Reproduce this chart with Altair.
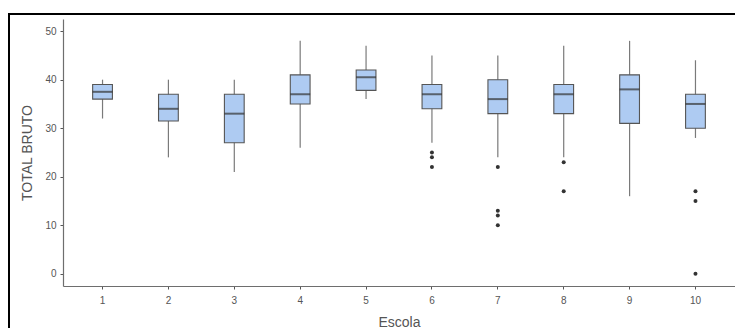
import altair as alt
import pandas as pd

escola = ["1", "2", "3", "4", "5", "6", "7", "8", "9", "10"]
wlow = [32, 24, 21, 26, 36, 27, 24, 24, 16, 28]
q1 = [36, 31.5, 27, 35, 37.8, 34, 33, 33, 31, 30]
median = [37.5, 34, 33, 37, 40.5, 37, 36, 37, 38, 35]
q3 = [39, 37, 37, 41, 42, 39, 40, 39, 41, 37]
whigh = [40, 40, 40, 48, 47, 45, 45, 47, 48, 44]

out_escola = ["6", "6", "6", "7", "7", "7", "7", "8", "8", "10", "10", "10"]
out_value = [25, 24, 22, 22, 13, 12, 10, 23, 17, 17, 15, 0]

stats = pd.DataFrame({"Escola": escola, "wlow": wlow, "q1": q1,
                      "median": median, "q3": q3, "whigh": whigh})
outs = pd.DataFrame({"Escola": out_escola, "value": out_value})

W, H = 672, 267

xscale = alt.Scale(domain=escola, paddingInner=0.7, paddingOuter=0.45)
yscale = alt.Scale(domain=[-2.5, 52.5], nice=False, zero=False)

xenc = alt.X("Escola:O", scale=xscale, title="Escola",
             axis=alt.Axis(labelAngle=0))
yaxis = alt.Axis(values=[0, 10, 20, 30, 40, 50], grid=False)

base = alt.Chart(stats)

whisker = base.mark_rule(color="#7a7a7a", strokeWidth=1.2).encode(
    x=xenc,
    y=alt.Y("wlow:Q", scale=yscale, axis=yaxis, title="TOTAL BRUTO"),
    y2="whigh:Q",
)
box = base.mark_bar(fill="#aecbf2", stroke="#555555", strokeWidth=1.1).encode(
    x=xenc, y=alt.Y("q1:Q", scale=yscale), y2="q3:Q"
)
med = base.mark_tick(color="#333333", thickness=2, size=20).encode(
    x=xenc, y=alt.Y("median:Q", scale=yscale)
)
pts = alt.Chart(outs).mark_circle(color="#333333", size=16, opacity=1).encode(
    x=xenc, y=alt.Y("value:Q", scale=yscale)
)

one = pd.DataFrame({"a": [0]})
frame_top = alt.Chart(one).mark_rule(color="black", strokeWidth=2, clip=False).encode(
    x=alt.value(-55), x2=alt.value(700), y=alt.value(-5)
)
frame_left = alt.Chart(one).mark_rule(color="black", strokeWidth=2, clip=False).encode(
    x=alt.value(-54), y=alt.value(-6), y2=alt.value(400)
)

chart = alt.layer(whisker, box, med, pts, frame_top, frame_left).properties(
    width=W, height=H,
    autosize=alt.AutoSizeParams(type="none"),
    padding={"left": 55, "top": 11, "right": 0, "bottom": 42},
).configure_view(stroke=None).configure_axis(
    domainColor="#6e6e6e", domainWidth=1.2,
    tickColor="#555555", tickSize=3, tickWidth=1,
    labelColor="#555555", labelFont="Liberation Sans", labelFontSize=10,
    titleColor="#555555", titleFont="Liberation Sans", titleFontSize=14,
    titleFontWeight="normal", labelPadding=4,
).configure_axisY(titlePadding=10).configure_axisX(
    titlePadding=10, labelPadding=6
)

chart.save("out.html", embed_options={"renderer": "svg", "actions": False})
